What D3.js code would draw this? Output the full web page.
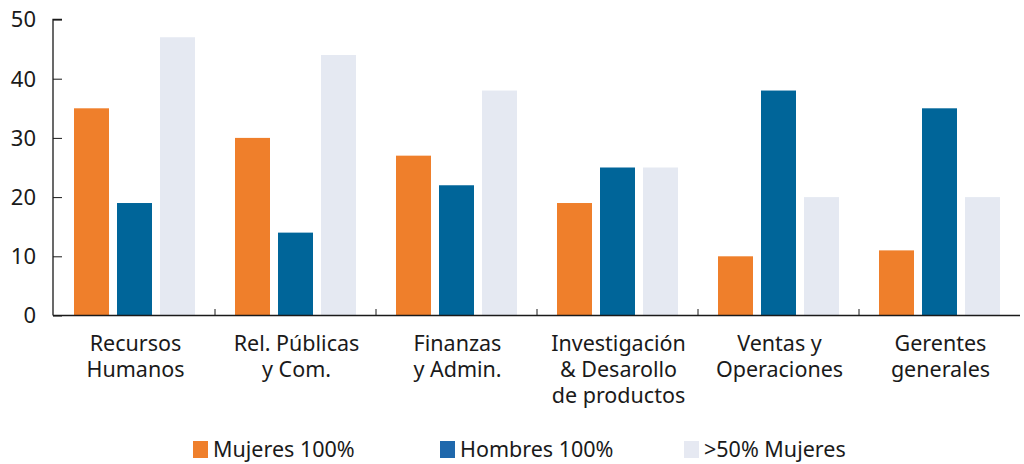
<!DOCTYPE html>
<html><head><meta charset="utf-8">
<script src="https://cdn.jsdelivr.net/npm/d3@7"></script>
<style>body{margin:0;background:#fff}svg{display:block}text{font-family:"Noto Sans",sans-serif;fill:#1a1a1a}</style>
</head><body><svg id="c" width="1024" height="464"></svg>
<script>
const categories = [["Recursos","Humanos"],["Rel. Públicas","y Com."],["Finanzas","y Admin."],["Investigación","& Desarollo","de productos"],["Ventas y","Operaciones"],["Gerentes","generales"]];
const seriesNames = ["Mujeres 100%","Hombres 100%",">50% Mujeres"];
const mujeres100 = [35,30,27,19,10,11];
const hombres100 = [19,14,22,25,38,35];
const mas50Mujeres = [47,44,38,25,20,20];
const yTicks = [0,10,20,30,40,50];
const colors = ["#EF7F2B","#006599","#E5E9F2"];
const legendColors = ["#EF7F2B","#1F68AC","#E6E9F2"];

const svg = d3.select("#c");
const x0 = d3.scaleBand().domain(d3.range(categories.length)).range([54,1020]).paddingInner(0).paddingOuter(0);
const x1 = d3.scaleBand().domain(d3.range(3)).range([20, x0.bandwidth()-20]).paddingInner(8/43).paddingOuter(0);
const y = d3.scaleLinear().domain([0,50]).range([315.5,19.5]);
const series = [mujeres100,hombres100,mas50Mujeres];

const g = svg.append("g");
categories.forEach((c,i)=>{
  series.forEach((s,j)=>{
    g.append("rect").attr("x",x0(i)+x1(j)).attr("width",x1.bandwidth())
     .attr("y",y(s[i])).attr("height",y(0)-y(s[i])).attr("fill",colors[j]);
  });
});

// y axis
const ya = svg.append("g").attr("transform","translate(53,0)")
  .call(d3.axisRight(y).tickValues(yTicks).tickSize(9).tickFormat(""));
ya.select(".domain").attr("d","M9,19.5H0V315.5");
ya.selectAll("line").attr("stroke","#1a1a1a");
ya.select(".domain").attr("stroke","#1a1a1a").attr("stroke-width",1.3);
svg.append("g").selectAll("text").data(yTicks).join("text")
  .attr("x",36).attr("y",d=>y(d)).attr("dy","0.36em").attr("text-anchor","end")
  .attr("font-size",22).text(d=>d);

// x axis
svg.append("line").attr("x1",53).attr("x2",1020).attr("y1",315.5).attr("y2",315.5).attr("stroke","#1a1a1a").attr("stroke-width",1.3);
svg.append("g").selectAll("line").data(d3.range(1,categories.length)).join("line")
  .attr("x1",d=>x0(d)).attr("x2",d=>x0(d)).attr("y1",315.5).attr("y2",309).attr("stroke","#1a1a1a");
categories.forEach((c,i)=>{
  const t = svg.append("text").attr("text-anchor","middle").attr("font-size",21.5);
  c.forEach((line,k)=>{
    t.append("tspan").attr("x",x0(i)+x0.bandwidth()/2+1).attr("y",351+k*26).text(line);
  });
});

// legend
const legX = [193,440,684];
seriesNames.forEach((n,j)=>{
  svg.append("rect").attr("x",legX[j]).attr("y",441).attr("width",15).attr("height",17).attr("fill",legendColors[j]);
  svg.append("text").attr("x",legX[j]+20).attr("y",457).attr("font-size",21.5).text(n);
});
</script></body></html>
